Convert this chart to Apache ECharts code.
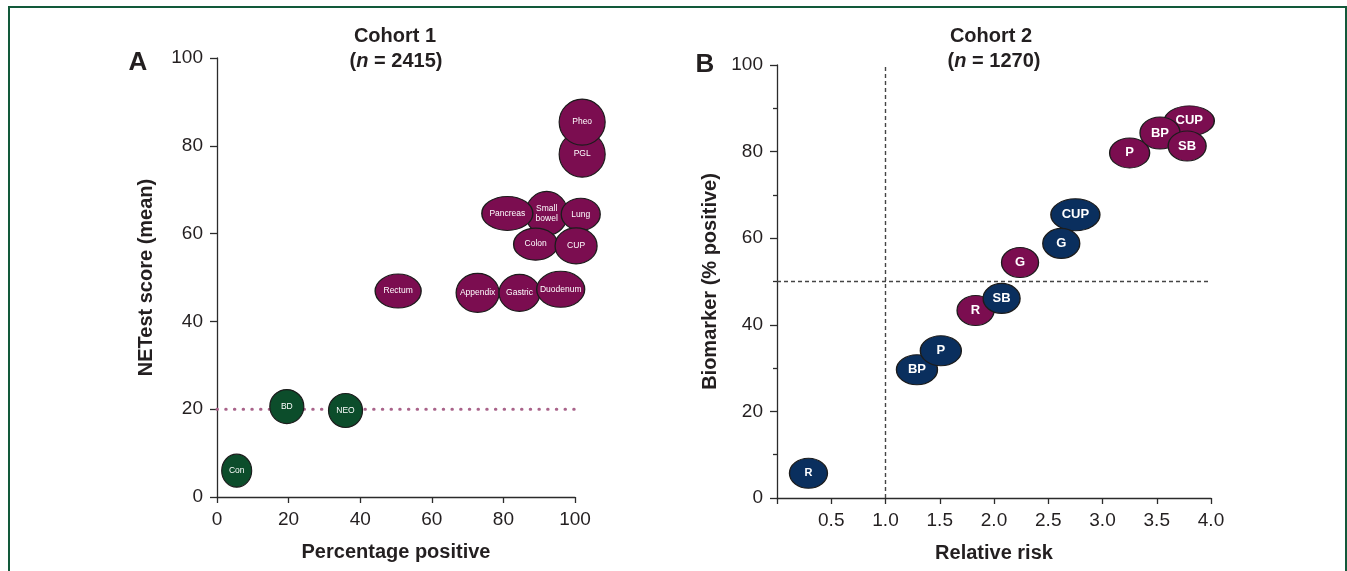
<!DOCTYPE html>
<html><head><meta charset="utf-8">
<script src="https://cdn.jsdelivr.net/npm/echarts@6/dist/echarts.min.js"></script>
<style>
html,body{margin:0;padding:0;background:#fff;}
#chart{width:1347px;height:571px;}
#frame{position:absolute;left:8px;top:6px;width:1339px;height:620px;box-sizing:border-box;border:2px solid #12593a;border-bottom:none;pointer-events:none;}
</style></head><body>
<div id="chart"></div><div id="frame"></div>
<script>
// ---------- Panel A (Cohort 1) data ----------
const cohort1Names = ['Con','BD','NEO','Rectum','Appendix','Gastric','Duodenum','Small\nbowel','Pancreas','Lung','Colon','CUP','PGL','Pheo'];
const cohort1PctPositive = [5.5, 19.5, 35.9, 50.6, 72.8, 84.5, 96.0, 92.1, 81.1, 101.6, 89.0, 100.3, 102.0, 102.0];
const cohort1NETestScore = [6.0, 20.6, 19.7, 46.9, 46.5, 46.5, 47.3, 64.6, 64.6, 64.4, 57.6, 57.2, 78.1, 85.4];
const cohort1Group = ['control','control','control','tumour','tumour','tumour','tumour','tumour','tumour','tumour','tumour','tumour','tumour','tumour'];
const cohort1Threshold = 20;
const cohort1XTicks = [0, 20, 40, 60, 80, 100];
const cohort1YTicks = [0, 20, 40, 60, 80, 100];

// ---------- Panel B (Cohort 2) data ----------
const cohort2Names = ['R','G','CUP','P','BP','SB','R','BP','P','SB','CUP','G'];
const cohort2RelativeRisk = [1.83, 2.24, 3.80, 3.25, 3.53, 3.78, 0.29, 1.29, 1.51, 2.07, 2.75, 2.62];
const cohort2Biomarker = [43.3, 54.4, 87.1, 79.7, 84.3, 81.3, 5.7, 29.6, 34.0, 46.1, 65.4, 58.8];
const cohort2Group = ['maroon','maroon','maroon','maroon','maroon','maroon','navy','navy','navy','navy','navy','navy'];
const cohort2RiskRef = 1.0;
const cohort2BiomarkerRef = 50;
const cohort2XTicks = [0, 0.5, 1.0, 1.5, 2.0, 2.5, 3.0, 3.5, 4.0];
const cohort2YTicks = [0, 20, 40, 60, 80, 100];

// ---------- Styles (bubble sizes in px, colours) ----------
const bubbleSizeA = [[30,33],[34,34],[34,34],[46,34],[43,39],[41,37],[48,36],[42,44],[51,34],[39,32],[44,32],[42,36],[46,46],[46,46]];
const bubbleSizeB = [[37,30],[37,30],[50,30],[40,30],[40,32],[38,30],[38,30],[41,30],[41,30],[37,30],[49,32],[37,30]];
const labelSizeB = [13,13,13,13,13,13,11,13,13,13,13,13];
const groupColors = {control:'#0c4d2b', tumour:'#7b0d50', maroon:'#7b0d50', navy:'#0a2f5e'};

const FONT = "'Liberation Sans', Arial, Helvetica, sans-serif";
const TXT = '#231f20';
const AX = '#2b2b2b';

function axisCommon(){
  return {
    type:'value',
    axisLine:{show:true, onZero:false, lineStyle:{color:AX, width:1.3}},
    axisTick:{show:true, length:7, lineStyle:{color:AX, width:1.3}},
    axisLabel:{fontSize:19, color:TXT, fontFamily:FONT},
    splitLine:{show:false},
    nameLocation:'middle',
    nameTextStyle:{fontSize:20, fontWeight:'bold', color:TXT, fontFamily:FONT}
  };
}

const chart = echarts.init(document.getElementById('chart'), null, {renderer:'canvas'});

const option = {
  animation:false,
  textStyle:{fontFamily:FONT},
  grid:[
    {left:217, top:58, width:358, height:439},
    {left:777, top:65, width:434, height:433}
  ],
  xAxis:[
    Object.assign(axisCommon(), {
      gridIndex:0, min:cohort1XTicks[0], max:cohort1XTicks[cohort1XTicks.length-1],
      interval:cohort1XTicks[1]-cohort1XTicks[0],
      name:'Percentage positive', nameGap:45,
      axisTick:{show:true, length:6, lineStyle:{color:AX, width:1.3}},
      axisLabel:{fontSize:19, color:TXT, fontFamily:FONT, margin:13}
    }),
    Object.assign(axisCommon(), {
      gridIndex:1, min:cohort2XTicks[0], max:cohort2XTicks[cohort2XTicks.length-1],
      interval:cohort2XTicks[1]-cohort2XTicks[0],
      name:'Relative risk', nameGap:45,
      axisTick:{show:true, length:6, lineStyle:{color:AX, width:1.3}},
      axisLabel:{fontSize:19, color:TXT, fontFamily:FONT, margin:13,
        formatter:v => (v === 0 ? '' : v.toFixed(1))}
    })
  ],
  yAxis:[
    Object.assign(axisCommon(), {
      gridIndex:0, min:cohort1YTicks[0], max:cohort1YTicks[cohort1YTicks.length-1],
      interval:cohort1YTicks[1]-cohort1YTicks[0],
      name:'NETest score (mean)', nameGap:61, nameRotate:90,
      axisLabel:{fontSize:19, color:TXT, fontFamily:FONT, margin:14}
    }),
    Object.assign(axisCommon(), {
      gridIndex:1, min:cohort2YTicks[0], max:cohort2YTicks[cohort2YTicks.length-1],
      interval:cohort2YTicks[1]-cohort2YTicks[0],
      name:'Biomarker (% positive)', nameGap:57, nameRotate:90,
      minorTick:{show:true, splitNumber:2, length:4, lineStyle:{color:AX, width:1.3}},
      axisLabel:{fontSize:19, color:TXT, fontFamily:FONT, margin:14}
    })
  ],
  series:[
    {
      type:'line', xAxisIndex:0, yAxisIndex:0, symbol:'none', silent:true, z:1,
      data:[[cohort1XTicks[0], cohort1Threshold],[cohort1XTicks[cohort1XTicks.length-1], cohort1Threshold]],
      lineStyle:{color:'#a9638a', width:3, type:[0.5, 8.2], cap:'round'}
    },
    {
      type:'line', xAxisIndex:1, yAxisIndex:1, symbol:'none', silent:true, z:1,
      data:[[cohort2RiskRef, cohort2YTicks[0]],[cohort2RiskRef, cohort2YTicks[cohort2YTicks.length-1]]],
      lineStyle:{color:'#444', width:1.4, type:[4,3]}
    },
    {
      type:'line', xAxisIndex:1, yAxisIndex:1, symbol:'none', silent:true, z:1,
      data:[[cohort2XTicks[0], cohort2BiomarkerRef],[cohort2XTicks[cohort2XTicks.length-1], cohort2BiomarkerRef]],
      lineStyle:{color:'#444', width:1.4, type:[4,3]}
    },
    {
      type:'scatter', xAxisIndex:0, yAxisIndex:0, clip:false, z:3, silent:true,
      data:cohort1Names.map((n,i)=>({
        name:n, value:[cohort1PctPositive[i], cohort1NETestScore[i]],
        symbolSize:bubbleSizeA[i],
        itemStyle:{color:groupColors[cohort1Group[i]]}
      })),
      itemStyle:{borderColor:'#1c1c1c', borderWidth:1.2, opacity:1},
      label:{show:true, position:'inside', formatter:p=>p.name, color:'#fff', fontSize:8.5, lineHeight:10, fontFamily:FONT}
    },
    {
      type:'scatter', xAxisIndex:1, yAxisIndex:1, clip:false, z:3, silent:true,
      data:cohort2Names.map((n,i)=>({
        name:n, value:[cohort2RelativeRisk[i], cohort2Biomarker[i]],
        symbolSize:bubbleSizeB[i],
        itemStyle:{color:groupColors[cohort2Group[i]]},
        label:{fontSize:labelSizeB[i]}
      })),
      itemStyle:{borderColor:'#1c1c1c', borderWidth:1.2, opacity:1},
      label:{show:true, position:'inside', formatter:p=>p.name, color:'#fff', fontWeight:'bold', fontFamily:FONT}
    }
  ],
  graphic:[
    {type:'text', x:138, y:63, style:{text:'A', font:"bold 26px "+FONT, fill:TXT, align:'center', verticalAlign:'middle', textAlign:'center', textVerticalAlign:'middle'}},
    {type:'text', x:705, y:65, style:{text:'B', font:"bold 26px "+FONT, fill:TXT, align:'center', verticalAlign:'middle', textAlign:'center', textVerticalAlign:'middle'}},
    {type:'text', x:395, y:36, style:{text:'Cohort 1', font:"bold 20px "+FONT, fill:TXT, align:'center', verticalAlign:'middle', textAlign:'center', textVerticalAlign:'middle'}},
    {type:'text', x:396, y:61, style:{
      text:'{a|(}{i|n}{a| = 2415)}', align:'center', verticalAlign:'middle', textAlign:'center', textVerticalAlign:'middle',
      rich:{a:{font:"bold 20px "+FONT, fill:TXT, color:TXT}, i:{font:"italic bold 20px "+FONT, fill:TXT, color:TXT}}}},
    {type:'text', x:991, y:36, style:{text:'Cohort 2', font:"bold 20px "+FONT, fill:TXT, align:'center', verticalAlign:'middle', textAlign:'center', textVerticalAlign:'middle'}},
    {type:'text', x:994, y:61, style:{
      text:'{a|(}{i|n}{a| = 1270)}', align:'center', verticalAlign:'middle', textAlign:'center', textVerticalAlign:'middle',
      rich:{a:{font:"bold 20px "+FONT, fill:TXT, color:TXT}, i:{font:"italic bold 20px "+FONT, fill:TXT, color:TXT}}}}
  ]
};
chart.setOption(option);
</script>
</body></html>
